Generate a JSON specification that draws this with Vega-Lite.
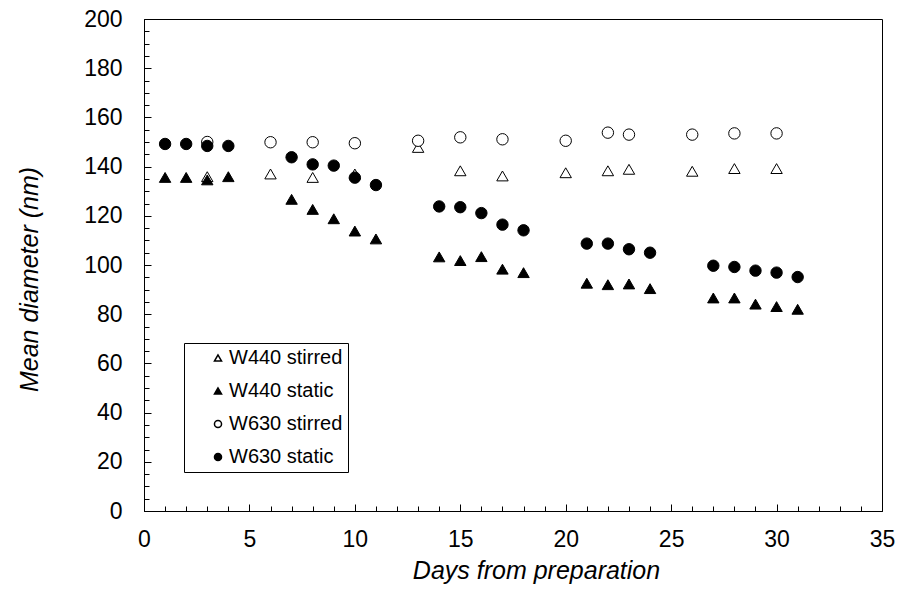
{
  "$schema": "https://vega.github.io/schema/vega-lite/v6.json",
  "width": 738,
  "height": 492,
  "autosize": {"type": "none"},
  "padding": {"left": 144, "top": 19, "right": 18, "bottom": 88},
  "background": "white",
  "config": {
    "view": {"stroke": "black", "strokeWidth": 1},
    "font": "Liberation Sans",
    "axis": {"grid": false, "domainColor": "black", "tickColor": "black", "labelColor": "black", "titleColor": "black", "domainWidth": 1, "tickWidth": 1, "labelFont": "Liberation Sans", "titleFont": "Liberation Sans"},
    "legend": {"labelFont": "Liberation Sans"}
  },
  "datasets": {
    "pts": [
      {"day": 3, "d": 135.9, "series": "W440 stirred"},
      {"day": 6, "d": 137.0, "series": "W440 stirred"},
      {"day": 8, "d": 135.6, "series": "W440 stirred"},
      {"day": 10, "d": 137.0, "series": "W440 stirred"},
      {"day": 13, "d": 147.8, "series": "W440 stirred"},
      {"day": 15, "d": 138.3, "series": "W440 stirred"},
      {"day": 17, "d": 136.2, "series": "W440 stirred"},
      {"day": 20, "d": 137.5, "series": "W440 stirred"},
      {"day": 22, "d": 138.3, "series": "W440 stirred"},
      {"day": 23, "d": 138.9, "series": "W440 stirred"},
      {"day": 26, "d": 138.1, "series": "W440 stirred"},
      {"day": 28, "d": 139.2, "series": "W440 stirred"},
      {"day": 30, "d": 139.2, "series": "W440 stirred"},
      {"day": 1, "d": 135.6, "series": "W440 static"},
      {"day": 2, "d": 135.6, "series": "W440 static"},
      {"day": 3, "d": 134.6, "series": "W440 static"},
      {"day": 4, "d": 135.9, "series": "W440 static"},
      {"day": 7, "d": 126.7, "series": "W440 static"},
      {"day": 8, "d": 122.6, "series": "W440 static"},
      {"day": 9, "d": 118.8, "series": "W440 static"},
      {"day": 10, "d": 113.8, "series": "W440 static"},
      {"day": 11, "d": 110.6, "series": "W440 static"},
      {"day": 14, "d": 103.3, "series": "W440 static"},
      {"day": 15, "d": 101.8, "series": "W440 static"},
      {"day": 16, "d": 103.4, "series": "W440 static"},
      {"day": 17, "d": 98.3, "series": "W440 static"},
      {"day": 18, "d": 96.9, "series": "W440 static"},
      {"day": 21, "d": 92.6, "series": "W440 static"},
      {"day": 22, "d": 92.0, "series": "W440 static"},
      {"day": 23, "d": 92.3, "series": "W440 static"},
      {"day": 24, "d": 90.4, "series": "W440 static"},
      {"day": 27, "d": 86.6, "series": "W440 static"},
      {"day": 28, "d": 86.6, "series": "W440 static"},
      {"day": 29, "d": 84.1, "series": "W440 static"},
      {"day": 30, "d": 83.1, "series": "W440 static"},
      {"day": 31, "d": 82.0, "series": "W440 static"},
      {"day": 3, "d": 150.0, "series": "W630 stirred"},
      {"day": 6, "d": 149.9, "series": "W630 stirred"},
      {"day": 8, "d": 149.9, "series": "W630 stirred"},
      {"day": 10, "d": 149.5, "series": "W630 stirred"},
      {"day": 13, "d": 150.5, "series": "W630 stirred"},
      {"day": 15, "d": 151.9, "series": "W630 stirred"},
      {"day": 17, "d": 151.1, "series": "W630 stirred"},
      {"day": 20, "d": 150.5, "series": "W630 stirred"},
      {"day": 22, "d": 153.8, "series": "W630 stirred"},
      {"day": 23, "d": 153.0, "series": "W630 stirred"},
      {"day": 26, "d": 153.0, "series": "W630 stirred"},
      {"day": 28, "d": 153.5, "series": "W630 stirred"},
      {"day": 30, "d": 153.5, "series": "W630 stirred"},
      {"day": 1, "d": 149.2, "series": "W630 static"},
      {"day": 2, "d": 149.2, "series": "W630 static"},
      {"day": 3, "d": 148.4, "series": "W630 static"},
      {"day": 4, "d": 148.4, "series": "W630 static"},
      {"day": 7, "d": 143.8, "series": "W630 static"},
      {"day": 8, "d": 140.9, "series": "W630 static"},
      {"day": 9, "d": 140.4, "series": "W630 static"},
      {"day": 10, "d": 135.5, "series": "W630 static"},
      {"day": 11, "d": 132.5, "series": "W630 static"},
      {"day": 14, "d": 123.8, "series": "W630 static"},
      {"day": 15, "d": 123.5, "series": "W630 static"},
      {"day": 16, "d": 121.1, "series": "W630 static"},
      {"day": 17, "d": 116.4, "series": "W630 static"},
      {"day": 18, "d": 114.1, "series": "W630 static"},
      {"day": 21, "d": 108.7, "series": "W630 static"},
      {"day": 22, "d": 108.7, "series": "W630 static"},
      {"day": 23, "d": 106.4, "series": "W630 static"},
      {"day": 24, "d": 105.0, "series": "W630 static"},
      {"day": 27, "d": 99.7, "series": "W630 static"},
      {"day": 28, "d": 99.2, "series": "W630 static"},
      {"day": 29, "d": 97.7, "series": "W630 static"},
      {"day": 30, "d": 96.9, "series": "W630 static"},
      {"day": 31, "d": 95.1, "series": "W630 static"}
    ]
  },
  "data": {"name": "pts"},
  "resolve": {"axis": {"x": "independent", "y": "independent"}},
  "layer": [
    {
      "mark": {"type": "point", "opacity": 0},
      "encoding": {
        "x": {"field": "day", "type": "quantitative", "scale": {"domain": [0, 35], "nice": false, "zero": false},
          "axis": {"orient": "bottom", "values": [1,2,3,4,6,7,8,9,11,12,13,14,16,17,18,19,21,22,23,24,26,27,28,29,31,32,33,34], "tickSize": -5, "labels": false, "domain": false, "title": null}},
        "y": {"field": "d", "type": "quantitative", "scale": {"domain": [0, 200], "nice": false, "zero": false},
          "axis": {"orient": "left", "values": [5,10,15,25,30,35,45,50,55,65,70,75,85,90,95,105,110,115,125,130,135,145,150,155,165,170,175,185,190,195], "tickSize": -5, "labels": false, "domain": false, "title": null}}
      }
    },
    {
      "mark": {"type": "point", "filled": true, "stroke": "black", "strokeWidth": 1, "opacity": 1, "fillOpacity": 1, "strokeOpacity": 1, "size": 130},
      "encoding": {
        "x": {"field": "day", "type": "quantitative",
          "axis": {"orient": "bottom", "values": [0,5,10,15,20,25,30,35], "tickSize": -7, "labelPadding": 24, "labelFontSize": 23, "labelFlush": false, "labelOverlap": false,
            "title": "Days from preparation", "titleFontSize": 25, "titleFontStyle": "italic", "titleFontWeight": "normal", "titleX": 392, "titleY": 67, "titleBaseline": "alphabetic", "titleAlign": "center"}},
        "y": {"field": "d", "type": "quantitative",
          "axis": {"orient": "left", "values": [0,20,40,60,80,100,120,140,160,180,200], "tickSize": -7, "labelPadding": 29, "labelFontSize": 23, "labelFlush": false, "labelOverlap": false,
            "title": "Mean diameter (nm)", "titleFontSize": 25, "titleFontStyle": "italic", "titleFontWeight": "normal", "titleX": -107, "titleY": 260, "titleAngle": -90, "titleBaseline": "alphabetic", "titleAlign": "center"}},
        "shape": {"field": "series", "type": "nominal",
          "scale": {"domain": ["W440 stirred", "W440 static", "W630 stirred", "W630 static"], "range": ["triangle-up", "triangle-up", "circle", "circle"]},
          "legend": {"orient": "none", "legendX": 40, "legendY": 324, "title": null, "strokeColor": "black", "fillColor": "white", "padding": 5, "symbolOffset": 19, "labelFontSize": 20, "labelOffset": 1, "rowPadding": 13, "symbolSize": 50, "labelColor": "black",
            "encode": {"symbols": {"update": {"stroke": {"value": "black"}, "strokeWidth": {"value": 1}}}}}},
        "fill": {"field": "series", "type": "nominal",
          "scale": {"domain": ["W440 stirred", "W440 static", "W630 stirred", "W630 static"], "range": ["white", "black", "white", "black"]},
          "legend": {"orient": "none", "legendX": 40, "legendY": 324, "title": null, "strokeColor": "black", "fillColor": "white", "padding": 5, "symbolOffset": 19, "labelFontSize": 20, "labelOffset": 1, "rowPadding": 13, "symbolSize": 50, "labelColor": "black",
            "encode": {"symbols": {"update": {"stroke": {"value": "black"}, "strokeWidth": {"value": 1}}}}}}
      }
    }
  ]
}
